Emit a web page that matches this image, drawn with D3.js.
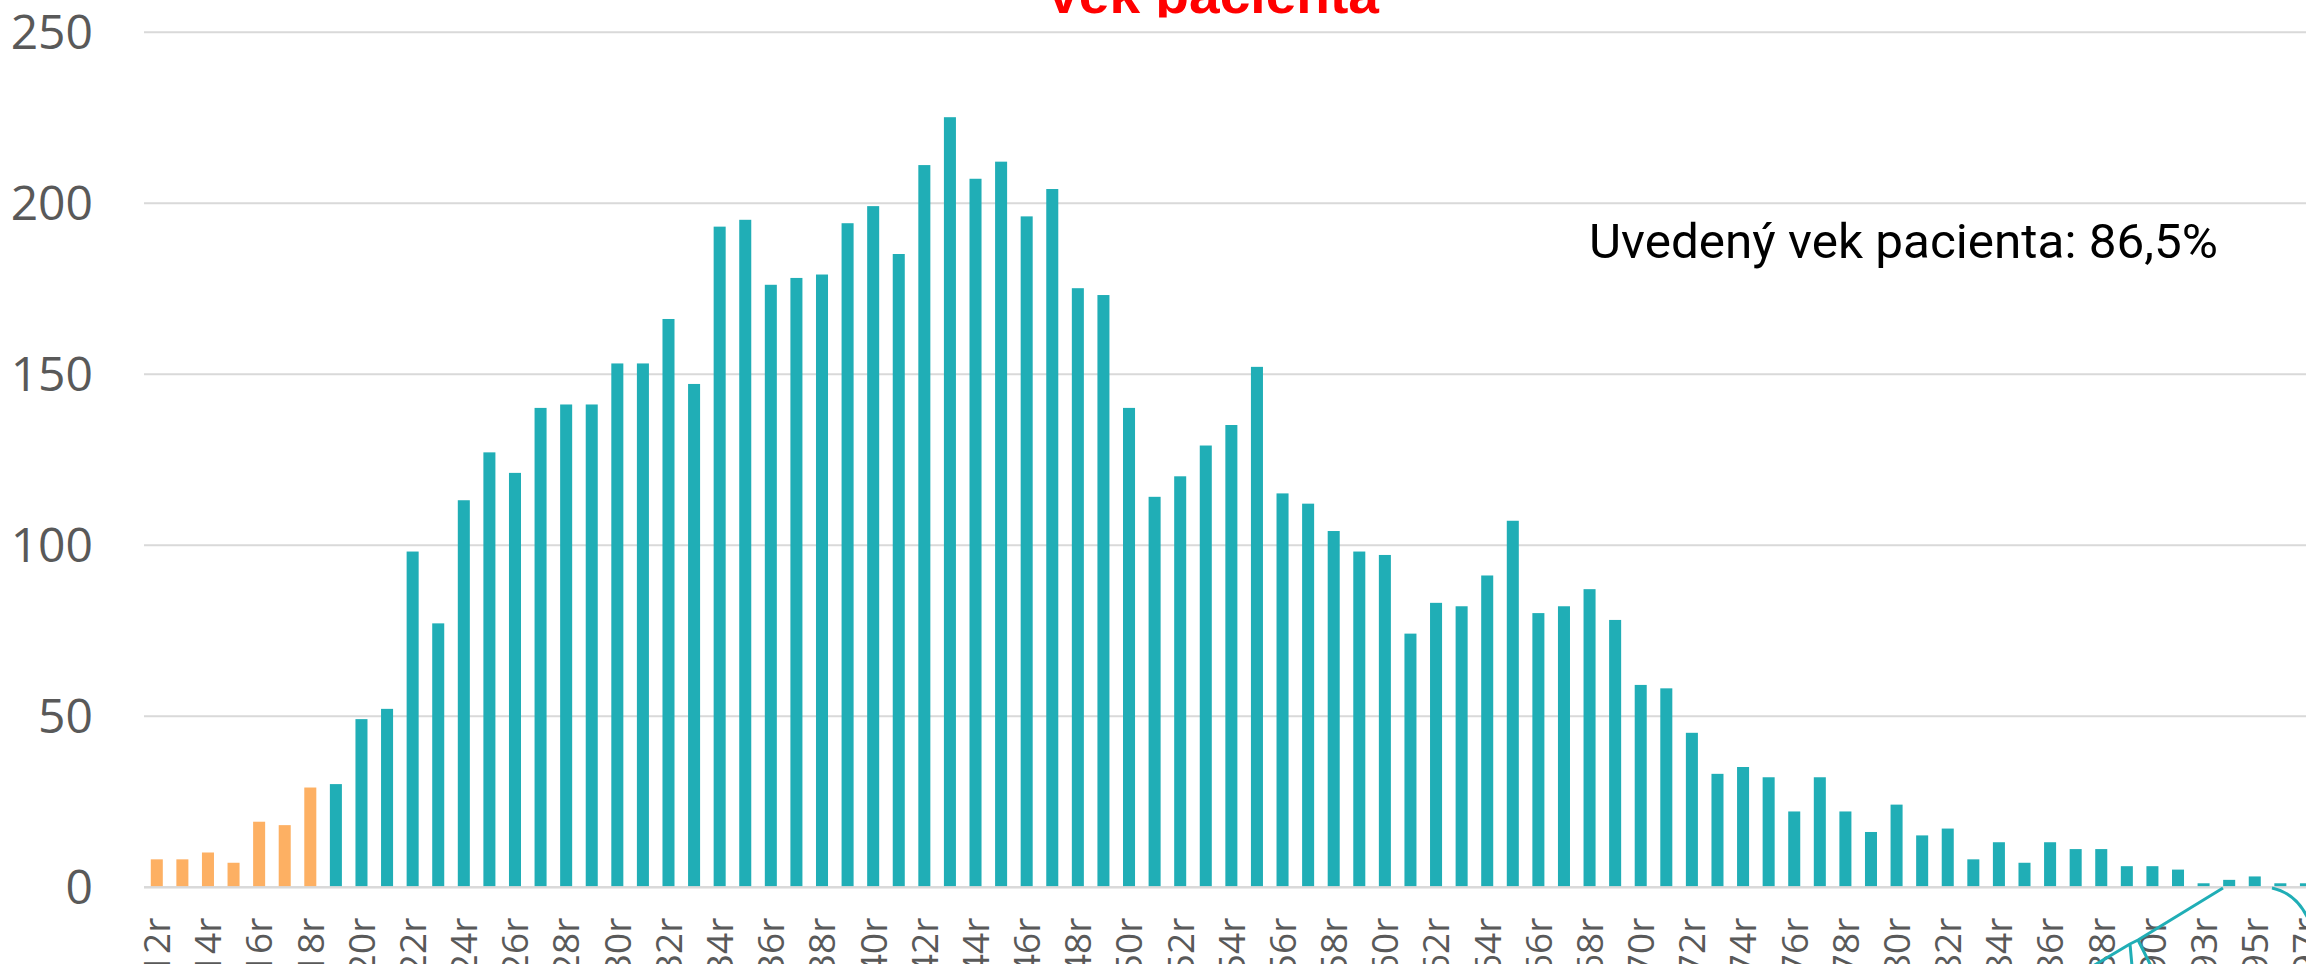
<!DOCTYPE html>
<html><head><meta charset="utf-8">
<script src="https://cdn.jsdelivr.net/npm/d3@7"></script>
<style>html,body{margin:0;padding:0;background:#fff;overflow:hidden}</style>
</head><body>
<svg id="chart" width="2306" height="964"></svg>
<script>
// ---- data ----
const ages = [12,13,14,15,16,17,18,19,20,21,22,23,24,25,26,27,28,29,30,31,32,33,34,35,36,37,38,39,40,41,42,43,44,45,46,47,48,49,50,51,52,53,54,55,56,57,58,59,60,61,62,63,64,65,66,67,68,69,70,71,72,73,74,75,76,77,78,79,80,81,82,83,84,85,86,87,88,89,90,91,93,94,95,96,97];
const counts = [8,8,10,7,19,18,29,30,49,52,98,77,113,127,121,140,141,141,153,153,166,147,193,195,176,178,179,194,199,185,211,225,207,212,196,204,175,173,140,114,120,129,135,152,115,112,104,98,97,74,83,82,91,107,80,82,87,78,59,58,45,33,35,32,22,32,22,16,24,15,17,8,13,7,13,11,11,6,6,5,1,2,3,1,1];
const minorAgeLimit = 19; // ages below shown in orange
const yTicks = [0,50,100,150,200,250];
const titleText = "Vek pacienta";
const noteText = "Uvedený vek pacienta: 86,5%";
const tickSuffix = "r";

(function () {
// ---- layout ----
const svg = d3.select("#chart");
const plotLeft = 144, plotBase = 886.7, plotTop = 31.7, step = 25.585;
const x = d3.scaleBand().domain(ages).range([plotLeft, plotLeft + step * ages.length]).paddingInner(0.53).paddingOuter(0.265);
const y = d3.scaleLinear().domain([0, 250]).range([plotBase, plotTop]);
const teal = "#20AEB6", orange = "#FDB063", grey = "#595959";

// gridlines + y labels
const yAxis = d3.axisLeft(y).tickValues(yTicks).tickSize(-(2306 - plotLeft)).tickPadding(51);
const gy = svg.append("g").attr("transform", `translate(${plotLeft},0)`).call(yAxis);
gy.select(".domain").remove();
gy.selectAll(".tick line").attr("stroke", "#d9d9d9").attr("stroke-width", 2);
gy.selectAll(".tick text").attr("fill", grey).attr("font-family", "'Open Sans', sans-serif")
  .attr("font-size", 48).attr("dy", "0.34em");

// bars
svg.append("g").selectAll("rect").data(ages).join("rect")
  .attr("x", d => x(d))
  .attr("width", x.bandwidth())
  .attr("y", (d, i) => y(counts[i]))
  .attr("height", (d, i) => plotBase - y(counts[i]))
  .attr("fill", d => d < minorAgeLimit ? orange : teal);

// axis baseline on top
svg.append("line").attr("x1", plotLeft).attr("x2", 2306).attr("y1", plotBase + 0.5).attr("y2", plotBase + 0.5)
  .attr("stroke", "#d9d9d9").attr("stroke-width", 2.5).attr("opacity", 0.85);

// x labels
const xAxis = d3.axisBottom(x).tickValues(ages.filter((d, i) => i % 2 === 0))
  .tickFormat(d => d + tickSuffix).tickSize(0).tickPadding(0);
const gx = svg.append("g").attr("transform", `translate(0,${plotBase})`).call(xAxis);
gx.select(".domain").remove();
gx.selectAll(".tick text").attr("fill", grey).attr("font-family", "'Open Sans', sans-serif")
  .attr("font-size", 37).attr("text-anchor", "end")
  .attr("transform", "rotate(-90)").attr("x", -31).attr("y", 0).attr("dy", "0.36em");

// title (cut at top of canvas)
svg.append("clipPath").attr("id", "tclip").append("rect").attr("x", 0).attr("y", -100).attr("width", 2306).attr("height", 117.5);
svg.append("text").attr("clip-path", "url(#tclip)")
  .attr("x", 1045).attr("y", 12.5).attr("fill", "#FF0000")
  .attr("font-family", "'Liberation Sans', Arial, sans-serif").attr("font-weight", "bold").attr("font-size", 54)
  .attr("textLength", 334).attr("lengthAdjust", "spacingAndGlyphs").text(titleText);

// note
svg.append("text").attr("x", 1589).attr("y", 258).attr("fill", "#000")
  .attr("font-family", "Roboto, 'Liberation Sans', sans-serif").attr("font-size", 49)
  .attr("textLength", 629).attr("lengthAdjust", "spacingAndGlyphs").text(noteText);

// teal hand-drawn marker below axis (partially visible)
svg.append("path")
  .attr("d", "M2093,966 L2130,944 L2132,966 M2130,944 L2138,940 L2151,966 M2138,940 L2223,888 M2272,888 Q2300,894 2312,928")
  .attr("fill", "none").attr("stroke", teal).attr("stroke-width", 3).attr("stroke-linejoin", "round");
})();
</script>
</body></html>
